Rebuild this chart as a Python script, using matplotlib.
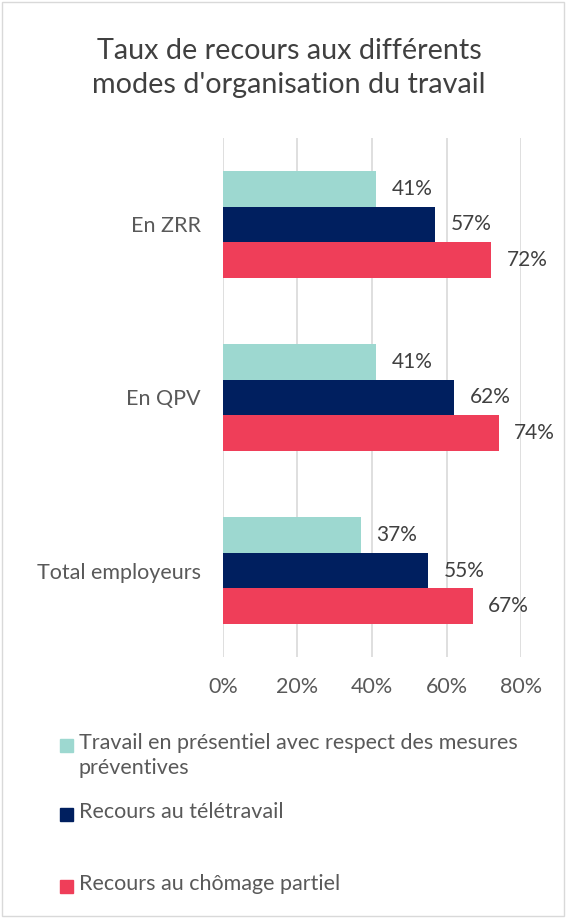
import numpy as np
import matplotlib
matplotlib.use('Agg')
import matplotlib.pyplot as plt
from matplotlib.patches import Rectangle

plt.rcParams['font.family'] = ['Lato', 'DejaVu Sans']

# données
categories = ['En ZRR', 'En QPV', 'Total employeurs']
series = ['Travail en présentiel avec respect des mesures\npréventives',
          'Recours au télétravail',
          'Recours au chômage partiel']
presentiel = [41, 41, 37]
teletravail = [57, 62, 55]
chomage = [72, 74, 67]
colors = ['#9dd8d0', '#001f5f', '#ef3e59']
title = "Taux de recours aux différents\nmodes d'organisation du travail"

fig = plt.figure(figsize=(5.67, 9.18), dpi=100)
ax = fig.add_axes([0.393, 0.284, 0.526, 0.566])

values = [presentiel, teletravail, chomage]
y = np.arange(len(categories))
h = 0.205
for i, (vals, col) in enumerate(zip(values, colors)):
    pos = y + (i - 1) * h
    ax.barh(pos, vals, height=h, color=col, zorder=2)
    for p, v in zip(pos, vals):
        ax.text(v + 4.2, p, f'{v}%', va='center', ha='left',
                fontsize=15, color='#404040')

ax.set_ylim(len(categories) - 0.5, -0.5)
ax.set_xlim(0, 80)
ax.set_xticks(range(0, 81, 20))
ax.set_xticklabels([f'{t}%' for t in range(0, 81, 20)], fontsize=15.5, color='#595959')
ax.set_yticks(y)
ax.set_yticklabels(categories, fontsize=15.5, color='#595959')
ax.tick_params(length=0, pad=16)
ax.tick_params(axis='x', pad=14)
ax.grid(axis='x', color='#d9d9d9', linewidth=1.2, zorder=0)
for s in ax.spines.values():
    s.set_visible(False)

fig.text(0.51, 0.926, title, ha='center', va='center', fontsize=20.7,
         color='#404040', linespacing=1.4)

# légende
leg_y = [746, 815, 887]
for name, col, yy in zip(series, colors, leg_y):
    fig.patches.append(Rectangle((60 / 567, 1 - (yy + 6) / 918), 13 / 567, 13 / 918,
                                 transform=fig.transFigure, color=col))
    fig.text(79 / 567, 1 - (yy - 13) / 918, name, ha='left', va='top',
             fontsize=15.5, color='#595959', linespacing=1.3)

fig.patches.append(Rectangle((0.004, 0.002), 0.99, 0.996, transform=fig.transFigure,
                             fill=False, edgecolor='#d9d9d9', linewidth=1))

fig.savefig('out.png', dpi=100)
